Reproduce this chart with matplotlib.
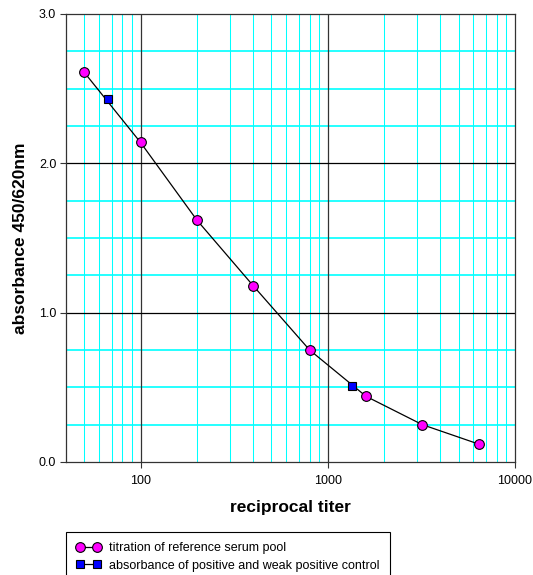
import matplotlib.pyplot as plt
from matplotlib.lines import Line2D
from matplotlib.ticker import FixedLocator, NullFormatter
import numpy as np

plt.rcParams['font.family'] = ['Liberation Sans', 'DejaVu Sans']

# titration of reference serum pool
titer = [50, 100, 200, 400, 800, 1600, 3200, 6400]
absorb = [2.61, 2.14, 1.62, 1.18, 0.75, 0.44, 0.25, 0.12]
# positive and weak positive control
ctrl_titer = [67, 1350]
ctrl_absorb = [2.43, 0.51]

label_pool = 'titration of reference serum pool'
label_ctrl = 'absorbance of positive and weak positive control'

fig = plt.figure(figsize=(5.33, 5.75), dpi=100)
ax = fig.add_axes([66/533, 113/575, 449/533, 448/575])

ax.set_xscale('log')
ax.set_xlim(40, 10000)
ax.set_ylim(0, 3.0)

# gridlines: cyan minor, black major
minor_x = [m * 10**d for d in range(1, 4) for m in range(2, 10) if 40 < m * 10**d < 10000]
for xv in minor_x:
    ax.axvline(xv, color='#00FFFF', lw=0.75, zorder=0)
for yv in np.arange(0.25, 3.0, 0.25):
    if abs(yv - round(yv)) > 1e-6:
        ax.axhline(yv, color='#00FFFF', lw=1.2, zorder=0)
for xv in [100, 1000]:
    ax.axvline(xv, color='#333333', lw=0.9, zorder=0.5)
for yv in [1.0, 2.0]:
    ax.axhline(yv, color='black', lw=0.9, zorder=0.5)

ax.plot(titer, absorb, color='black', lw=0.9, zorder=2)
ax.plot(titer, absorb, linestyle='none', marker='o', ms=7, mfc='#FF00FF',
        mec='black', mew=0.8, zorder=3)
ax.plot(ctrl_titer, ctrl_absorb, linestyle='none', marker='s', ms=6.3, mfc='#0000FF',
        mec='black', mew=0.8, zorder=3)

ax.xaxis.set_major_locator(FixedLocator([100, 1000, 10000]))
ax.xaxis.set_minor_locator(FixedLocator([]))
ax.xaxis.set_minor_formatter(NullFormatter())
ax.set_xticklabels(['100', '1000', '10000'])
ax.set_yticks([0, 1, 2, 3])
ax.set_yticklabels(['0.0', '1.0', '2.0', '3.0'])
ax.tick_params(axis='both', labelsize=9, length=4, width=0.8, color='#333333')
ax.tick_params(axis='x', pad=5)
ax.tick_params(axis='y', pad=3)

for s in ax.spines.values():
    s.set_color('#333333')
    s.set_linewidth(0.9)

ax.set_xlabel('reciprocal titer', fontsize=12.5, fontweight='bold', labelpad=10)
ax.set_ylabel('absorbance 450/620nm', fontsize=12.5, fontweight='bold', labelpad=8)

handles = [
    Line2D([], [], color='black', lw=0.9, marker='o', ms=7, mfc='#FF00FF', mec='black', mew=0.8),
    Line2D([], [], color='black', lw=0.9, marker='s', ms=6.3, mfc='#0000FF', mec='black', mew=0.8),
]
leg = fig.legend(handles, [label_pool, label_ctrl], loc='upper left',
                 bbox_to_anchor=(66/533, 1 - 532/575), borderaxespad=0, fontsize=9,
                 numpoints=2, handlelength=2.0, handletextpad=0.65, fancybox=False,
                 framealpha=1, edgecolor='black', borderpad=0.8, labelspacing=0.45)
leg.get_frame().set_linewidth(0.8)

fig.savefig('out.png', dpi=100)
